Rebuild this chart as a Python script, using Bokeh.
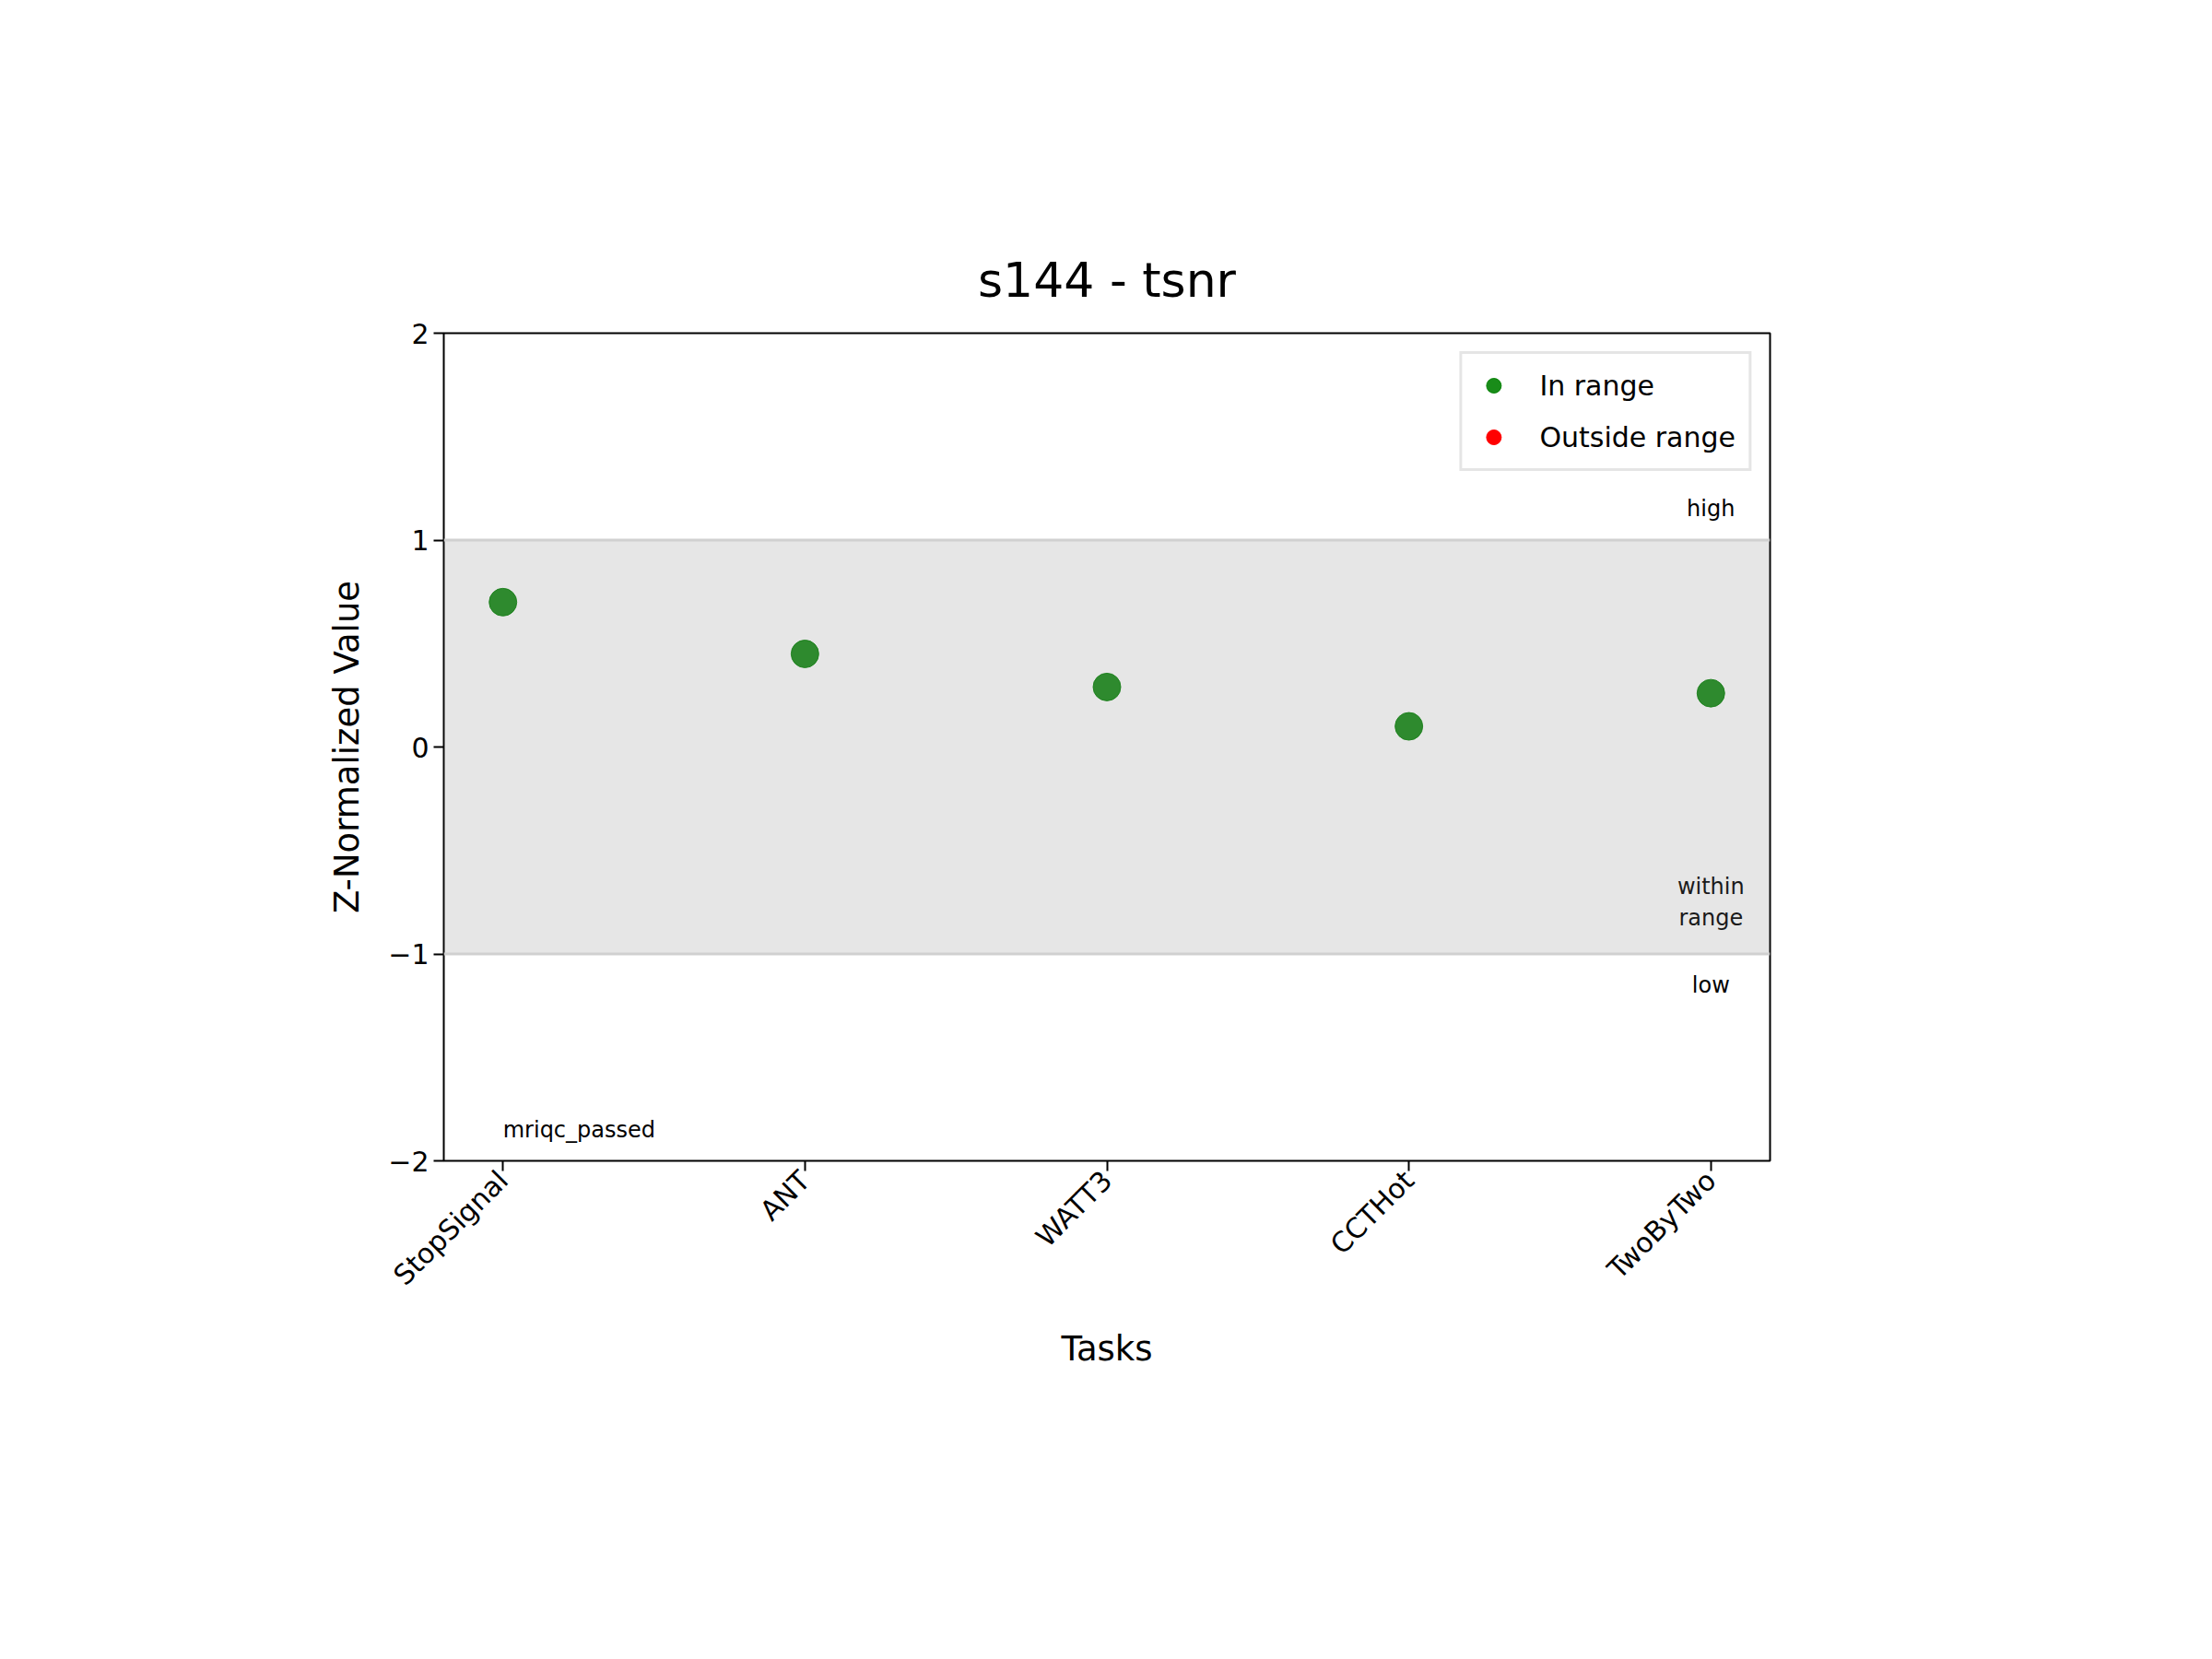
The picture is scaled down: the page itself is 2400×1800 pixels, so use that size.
from math import pi
from bokeh.plotting import figure
from bokeh.models import BoxAnnotation, Span, FixedTicker, Range1d, Legend, LegendItem
from bokeh.core.properties import value
from bokeh.embed import file_html
from bokeh.resources import INLINE

tasks = ["StopSignal", "ANT", "WATT3", "CCTHot", "TwoByTwo"]
z_values = [0.70, 0.45, 0.29, 0.10, 0.26]
outside_x = [-10]   # no task outside range; kept off-screen so the legend entry shows
outside_y = [-10]
region_labels = ["high", "within\nrange", "low"]
region_y = [1.15, -0.75, -1.15]

FONT = "DejaVu Sans"
xs = list(range(len(tasks)))

p = figure(width=2384, height=1784, output_backend="svg", toolbar_location=None,
           x_range=Range1d(-0.196, len(tasks) - 1 + 0.196), y_range=Range1d(-2, 2),
           title="s144 - tsnr")
p.min_border_left = 481
p.min_border_right = 464
p.min_border_top = 361
p.min_border_bottom = 525
p.title.align = "center"
p.title.text_font = FONT
p.title.text_font_size = "52px"
p.title.text_font_style = "normal"
p.title.text_color = "black"
p.title.standoff = 55
p.xgrid.visible = False
p.ygrid.visible = False
p.outline_line_color = "black"
p.outline_line_width = 2

p.add_layout(BoxAnnotation(bottom=-1, top=1, fill_color="#808080", fill_alpha=0.2, line_alpha=0))
for yv in (-1, 1):
    p.add_layout(Span(location=yv, dimension="width", line_color="#d0d0d0", line_width=3))

pts = p.scatter(xs, z_values, size=30, color="green", alpha=0.9)
out = p.scatter(outside_x, outside_y, size=30, color="red")

p.text([len(tasks) - 1] * 3, region_y, text=region_labels, text_align="center",
       text_baseline="middle", text_font=value(FONT), text_font_size="24px", color="black")
p.text([0], [-1.85], text=["mriqc_passed"], text_align="left", text_baseline="middle",
       text_font=value(FONT), text_font_size="24px", color="black")

for ax in (p.xaxis[0], p.yaxis[0]):
    ax.major_label_text_font = FONT
    ax.major_label_text_font_size = "30px"
    ax.major_label_text_color = "black"
    ax.axis_label_text_font = FONT
    ax.axis_label_text_font_size = "37px"
    ax.axis_label_text_font_style = "normal"
    ax.axis_label_text_color = "black"
    ax.minor_tick_line_color = None
    ax.major_tick_out = 11
    ax.major_tick_in = 0
    ax.major_tick_line_width = 2
    ax.axis_line_color = None

p.xaxis.ticker = FixedTicker(ticks=xs)
p.xaxis.major_label_overrides = {i: t for i, t in enumerate(tasks)}
p.xaxis.major_label_orientation = pi / 4
p.xaxis.axis_label = "Tasks"
p.xaxis.axis_label_standoff = 25
p.yaxis.ticker = FixedTicker(ticks=[-2, -1, 0, 1, 2])
p.yaxis.major_label_overrides = {-2: "\u22122", -1: "\u22121", 0: "0", 1: "1", 2: "2"}
p.yaxis.axis_label = "Z-Normalized Value"
p.yaxis.axis_label_standoff = 20

legend = Legend(items=[LegendItem(label="In range", renderers=[pts]),
                       LegendItem(label="Outside range", renderers=[out])],
                location="top_right", label_text_font=FONT, label_text_font_size="30px",
                label_text_color="black", border_line_color="#cccccc", border_line_width=3,
                margin=20, padding=14, spacing=16, glyph_width=40, glyph_height=40,
                label_standoff=30)
p.add_layout(legend)

open("out.html", "w").write(file_html(p, INLINE))
